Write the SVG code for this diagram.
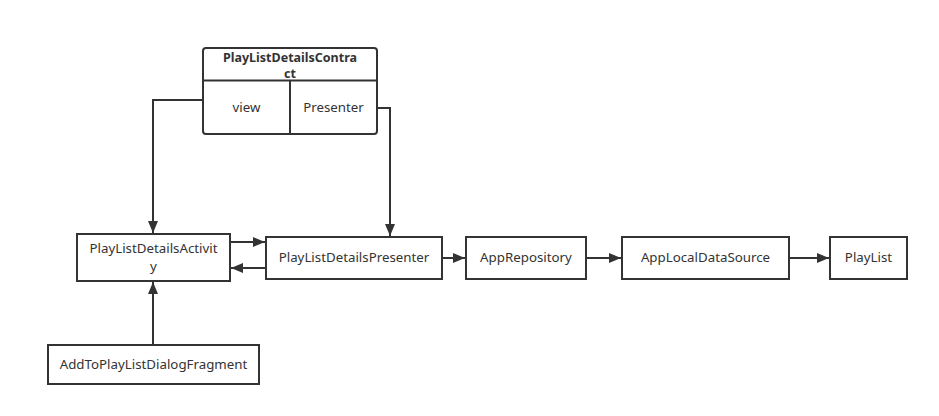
<svg xmlns="http://www.w3.org/2000/svg" width="939" height="416" viewBox="0 0 939 416">
  <style>
    .box { fill: #ffffff; stroke: #333333; stroke-width: 2; }
    .lbl { font-family: "Noto Sans", "Open Sans", sans-serif; font-size: 13.3px; fill: #333333; text-anchor: middle; }
    .ttl { font-family: "Noto Sans", "Open Sans", sans-serif; font-size: 12.5px; font-weight: bold; fill: #333333; text-anchor: middle; }
    .edge { fill: none; stroke: #333333; stroke-width: 2; }
  </style>
  <defs>
    <marker id="arrow" viewBox="0 0 12 10" refX="12" refY="5" markerWidth="12" markerHeight="10" markerUnits="userSpaceOnUse" orient="auto">
      <path d="M0,0 L12,5 L0,10 Z" fill="#333333"/>
    </marker>
  </defs>
  <rect width="939" height="416" fill="#ffffff"/>

  <g id="contract">
    <rect class="box" x="203" y="48" width="174" height="86" rx="3"/>
    <line class="edge" x1="203" y1="80.5" x2="377" y2="80.5"/>
    <line class="edge" x1="290" y1="80.5" x2="290" y2="134"/>
    <text class="ttl" x="290" y="62">PlayListDetailsContra</text>
    <text class="ttl" x="290" y="77.5">ct</text>
    <text class="lbl" x="246.5" y="112">view</text>
    <text class="lbl" x="333.5" y="112">Presenter</text>
  </g>

  <g id="activity">
    <rect class="box" x="77" y="234" width="153" height="47"/>
    <text class="lbl" x="153.5" y="253">PlayListDetailsActivit</text>
    <text class="lbl" x="153.5" y="271">y</text>
  </g>

  <g id="presenter">
    <rect class="box" x="266" y="237" width="176" height="42"/>
    <text class="lbl" x="354" y="262">PlayListDetailsPresenter</text>
  </g>

  <g id="repository">
    <rect class="box" x="466" y="237" width="120" height="42"/>
    <text class="lbl" x="526" y="262">AppRepository</text>
  </g>

  <g id="localsource">
    <rect class="box" x="622" y="237" width="167" height="42"/>
    <text class="lbl" x="705.5" y="262">AppLocalDataSource</text>
  </g>

  <g id="playlist">
    <rect class="box" x="830" y="237" width="77" height="42"/>
    <text class="lbl" x="868.5" y="262">PlayList</text>
  </g>

  <g id="dialog">
    <rect class="box" x="48" y="345" width="211" height="39"/>
    <text class="lbl" x="153.5" y="369">AddToPlayListDialogFragment</text>
  </g>

  <g id="connectors">
    <path class="edge" d="M203,100 H153 V233" marker-end="url(#arrow)"/>
    <path class="edge" d="M377,108 H390 V236" marker-end="url(#arrow)"/>
    <path class="edge" d="M230,242 H265" marker-end="url(#arrow)"/>
    <path class="edge" d="M266,268 H231" marker-end="url(#arrow)"/>
    <path class="edge" d="M442,258 H465" marker-end="url(#arrow)"/>
    <path class="edge" d="M586,258 H621" marker-end="url(#arrow)"/>
    <path class="edge" d="M789,258 H829" marker-end="url(#arrow)"/>
    <path class="edge" d="M153,345 V282" marker-end="url(#arrow)"/>
  </g>
</svg>
